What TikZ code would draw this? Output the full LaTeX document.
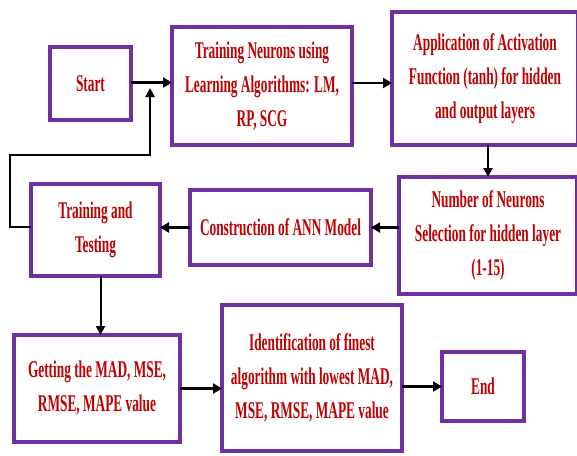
\documentclass[tikz,border=0pt]{standalone}
\usepackage{fontspec}
\newfontfamily\lblfont{Liberation Serif}[FakeStretch=0.555,BoldFeatures={FakeStretch=0.555}]
\usetikzlibrary{arrows.meta,calc}
\definecolor{boxpurple}{HTML}{7030A0}
\definecolor{txtred}{HTML}{C00000}
\begin{document}
\begin{tikzpicture}[x=1pt,y=-1pt,
  box/.style={draw=boxpurple,line width=4pt,fill=white,rectangle,inner sep=0pt,outer sep=0pt,
    align=center,text=txtred,font=\lblfont\bfseries\fontsize{24}{34}\selectfont},
  arr/.style={draw=black,line width=2.6pt,-{Triangle[length=9pt,width=10pt]}},
  thinarr/.style={draw=black,line width=2pt,-{Triangle[length=9pt,width=9pt]}}]
\fill[white] (0,0) rectangle (577,455);
\useasboundingbox (0,0) rectangle (577,455);
\begin{scope}
\clip (0,0) rectangle (577,455);
\node[box,minimum width=81pt,minimum height=73pt] (start) at (90.5,83.5) {Start};
\node[box,minimum width=180pt,minimum height=118pt] (train) at (262,86) {Training Neurons using\\Learning Algorithms: LM,\\RP, SCG};
\node[box,minimum width=186pt,minimum height=133pt] (appl) at (485,78.5) {Application of Activation\\Function (tanh) for hidden\\and output layers};
\node[box,minimum width=178pt,minimum height=117pt] (neur) at (488,235.5) {Number of Neurons\\Selection for hidden layer\\(1-15)};
\node[box,minimum width=181pt,minimum height=75pt] (cons) at (280.5,227.5) {Construction of ANN Model};
\node[box,minimum width=129pt,minimum height=92pt] (tt) at (95.5,230) {Training and\\Testing};
\node[box,minimum width=166pt,minimum height=107pt] (get) at (97,388.5) {Getting the MAD, MSE,\\RMSE, MAPE value};
\node[box,minimum width=180pt,minimum height=146pt] (ident) at (312,378) {Identification of finest\\algorithm with lowest MAD,\\MSE, RMSE, MAPE value};
\node[box,minimum width=82pt,minimum height=69pt] (end) at (483,386.5) {End};
\end{scope}
\coordinate (fbA) at (10,155);
\coordinate (fbB) at (150,88);
\draw[arr] ($(start.east)+(0,-1)$) -- ($(start.east -| train.west)+(0,-1)$);
\draw[arr] ($(train.east)+(0,-3)$) -- ($(train.east -| appl.west)+(0,-3)$);
\draw[thinarr] (neur.north |- appl.south) -- (neur.north);
\draw[arr] (neur.west |- cons.east) -- (cons.east);
\draw[arr] (cons.west) -- (cons.west -| tt.east);
\draw[draw=black,line width=2.2pt,-{Triangle[length=9pt,width=9pt]}] ($(tt.west)+(0,-3)$) -| (fbA) -| (fbB);
\draw[thinarr] ($(tt.south)+(5,0)$) -- ($(tt.south |- get.north)+(5,0)$);
\draw[arr] (get.east) -- (get.east -| ident.west);
\draw[arr] (ident.east |- end.west) -- (end.west);
\end{tikzpicture}
\end{document}
